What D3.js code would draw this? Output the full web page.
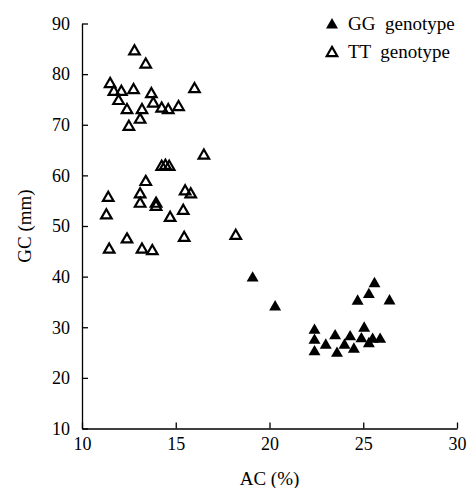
<!DOCTYPE html>
<html>
<head>
<meta charset="utf-8">
<script src="https://cdn.jsdelivr.net/npm/d3@7"></script>
<style>
    body { margin: 0; background: #fff; }
    svg { display: block; font-family: 'Liberation Serif', 'Times New Roman', serif; }
    .axis path, .axis line { stroke: #000; stroke-width: 1.3; }
    .label { font-size: 19px; fill: #000; }
</style>
</head>
<body>
<svg width="467" height="488"></svg>
<script>
// AC (%) / GC (mm) per genotype
const ggAC = [19.1, 20.3, 25.6, 25.3, 24.7, 26.4,
    22.4, 22.4, 22.4, 23.0, 23.5, 23.6, 24.3, 24.0, 24.5, 25.05, 24.9, 25.3, 25.5, 25.9];
const ggGC = [39.7, 34.0, 38.6, 36.45, 35.15, 35.2,
    29.4, 27.4, 25.15, 26.45, 28.3, 24.85, 28.1, 26.45, 25.65, 29.8, 27.7, 26.75, 27.6, 27.6];

const ttAC = [12.8, 13.4, 11.5, 16.0, 11.7, 12.1, 12.75, 13.7, 11.95, 13.8, 14.25, 14.6, 15.15, 12.4, 13.2, 13.1, 12.5,
    16.5, 14.25, 14.45, 14.65, 13.4, 15.5, 15.8, 13.1, 11.4, 13.1, 13.95, 13.95, 15.4, 11.3, 14.7, 15.45, 12.4, 11.45, 13.2, 13.75,
    18.2];
const ttGC = [84.5, 81.9, 78.05, 77.05, 76.5, 76.5, 76.85, 76.05, 74.7, 74.2, 73.2, 72.9, 73.5, 72.9, 72.9, 71.0, 69.6,
    63.9, 61.7, 61.9, 61.7, 58.7, 56.85, 56.25, 56.25, 55.55, 54.4, 54.4, 53.8, 53.0, 52.1, 51.6, 47.65, 47.35, 45.35, 45.35, 45.05,
    48.05];

const xTicks = [10, 15, 20, 25, 30];
const yTicks = [10, 20, 30, 40, 50, 60, 70, 80, 90];

const gg = ggAC.map((v, i) => ({ ac: v, gc: ggGC[i] }));
const tt = ttAC.map((v, i) => ({ ac: v, gc: ttGC[i] }));

const svg = d3.select('svg');

const margin = { top: 23.5, left: 82 };
const width = 457 - margin.left;
const height = 428.5 - margin.top;

const chart = svg.append('g')
    .attr('transform', `translate(${margin.left}, ${margin.top})`);

const xScale = d3.scaleLinear()
    .domain([10, 30])
    .range([0, width]);

const yScale = d3.scaleLinear()
    .domain([10, 90])
    .range([height, 0]);

chart.append('g')
    .attr('class', 'axis')
    .attr('transform', `translate(0, ${height})`)
    .call(d3.axisBottom(xScale)
        .tickValues(xTicks)
        .tickSizeInner(-6)
        .tickSizeOuter(0)
        .tickPadding(9));

chart.append('g')
    .attr('class', 'axis')
    .call(d3.axisLeft(yScale)
        .tickValues(yTicks)
        .tickSizeInner(-6)
        .tickSizeOuter(0)
        .tickPadding(12));

// d3 puts sans-serif on the axis group, force the serif face on the labels
chart.selectAll('.axis text')
    .style('font-family', "'Liberation Serif', 'Times New Roman', serif")
    .style('font-size', '18px')
    .attr('fill', '#000');

const triangle = d3.symbol().type(d3.symbolTriangle);

chart.selectAll('.tt')
    .data(tt)
    .enter()
    .append('path')
    .attr('class', 'tt')
    .attr('d', triangle.size(48)())
    .attr('transform', (d) => `translate(${xScale(d.ac)}, ${yScale(d.gc)})`)
    .attr('fill', 'none')
    .attr('stroke', '#000')
    .attr('stroke-width', 2.2);

chart.selectAll('.gg')
    .data(gg)
    .enter()
    .append('path')
    .attr('class', 'gg')
    .attr('d', triangle.size(62)())
    .attr('transform', (d) => `translate(${xScale(d.ac)}, ${yScale(d.gc)})`)
    .attr('fill', '#000');

// legend
const legend = svg.append('g');
const items = [
    { name: 'GG  genotype', filled: true },
    { name: 'TT  genotype', filled: false }
];
items.forEach((it, i) => {
    const y = 25 + i * 28;
    legend.append('path')
        .attr('d', d3.symbol().type(d3.symbolTriangle).size(it.filled ? 62 : 48)())
        .attr('transform', `translate(332, ${y})`)
        .attr('fill', it.filled ? '#000' : 'none')
        .attr('stroke', it.filled ? 'none' : '#000')
        .attr('stroke-width', 2.2);
    legend.append('text')
        .attr('class', 'label')
        .attr('x', 348)
        .attr('y', y + 5)
        .style('white-space', 'pre')
        .text(it.name);
});

svg.append('text')
    .attr('class', 'label')
    .attr('x', -(margin.top + height / 2))
    .attr('y', 31)
    .attr('transform', 'rotate(-90)')
    .attr('text-anchor', 'middle')
    .text('GC (mm)');

svg.append('text')
    .attr('class', 'label')
    .attr('x', margin.left + width / 2)
    .attr('y', 485)
    .attr('text-anchor', 'middle')
    .text('AC (%)');
</script>
</body>
</html>
